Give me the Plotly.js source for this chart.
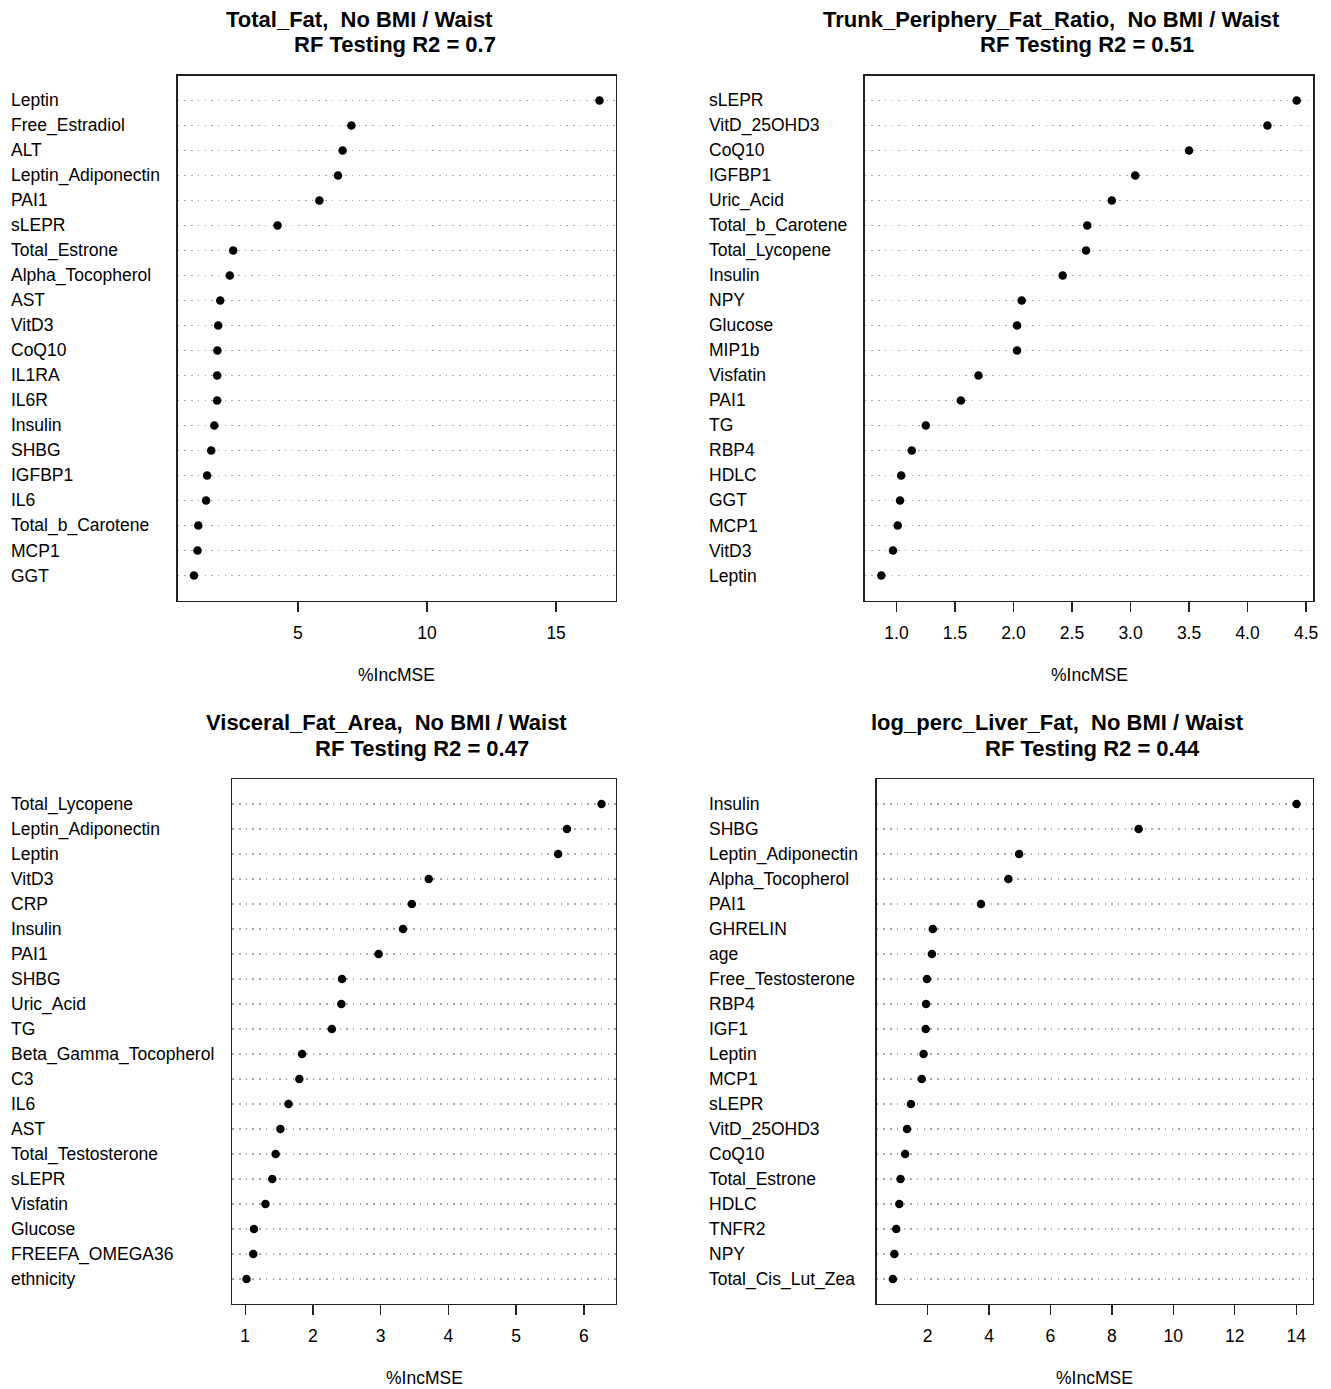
<!DOCTYPE html>
<html>
<head>
<meta charset="utf-8">
<script src="https://cdn.plot.ly/plotly-3.0.1.min.js"></script>
<style>
  html, body { margin: 0; padding: 0; background: #ffffff; }
  #chart { width: 1331px; height: 1389px; }
</style>
</head>
<body>
<div id="chart"></div>
<script>
// ---------------- DATA (top row of each chart first) ----------------
const labels1 = ["Leptin","Free_Estradiol","ALT","Leptin_Adiponectin","PAI1","sLEPR","Total_Estrone","Alpha_Tocopherol","AST","VitD3","CoQ10","IL1RA","IL6R","Insulin","SHBG","IGFBP1","IL6","Total_b_Carotene","MCP1","GGT"];
const values1 = [16.68,7.07,6.73,6.55,5.83,4.21,2.49,2.36,1.99,1.91,1.88,1.87,1.87,1.76,1.64,1.48,1.44,1.14,1.11,0.97];

const labels2 = ["sLEPR","VitD_25OHD3","CoQ10","IGFBP1","Uric_Acid","Total_b_Carotene","Total_Lycopene","Insulin","NPY","Glucose","MIP1b","Visfatin","PAI1","TG","RBP4","HDLC","GGT","MCP1","VitD3","Leptin"];
const values2 = [4.42,4.17,3.50,3.04,2.84,2.63,2.62,2.42,2.07,2.03,2.03,1.70,1.55,1.25,1.13,1.04,1.03,1.01,0.97,0.87];

const labels3 = ["Total_Lycopene","Leptin_Adiponectin","Leptin","VitD3","CRP","Insulin","PAI1","SHBG","Uric_Acid","TG","Beta_Gamma_Tocopherol","C3","IL6","AST","Total_Testosterone","sLEPR","Visfatin","Glucose","FREEFA_OMEGA36","ethnicity"];
const values3 = [6.26,5.75,5.62,3.71,3.46,3.33,2.97,2.43,2.42,2.28,1.84,1.80,1.64,1.52,1.45,1.40,1.30,1.13,1.12,1.02];

const labels4 = ["Insulin","SHBG","Leptin_Adiponectin","Alpha_Tocopherol","PAI1","GHRELIN","age","Free_Testosterone","RBP4","IGF1","Leptin","MCP1","sLEPR","VitD_25OHD3","CoQ10","Total_Estrone","HDLC","TNFR2","NPY","Total_Cis_Lut_Zea"];
const values4 = [14.01,8.87,4.98,4.63,3.74,2.17,2.14,1.98,1.95,1.94,1.87,1.81,1.46,1.33,1.27,1.12,1.08,0.98,0.92,0.87];

const titles1 = ["Total_Fat,  No BMI / Waist", "Trunk_Periphery_Fat_Ratio,  No BMI / Waist", "Visceral_Fat_Area,  No BMI / Waist", "log_perc_Liver_Fat,  No BMI / Waist"];
const titles2 = ["RF Testing R2 = 0.7", "RF Testing R2 = 0.51", "RF Testing R2 = 0.47", "RF Testing R2 = 0.44"];
const xTitle = "%IncMSE";

const tickvals1 = [5, 10, 15];
const tickvals2 = [1.0, 1.5, 2.0, 2.5, 3.0, 3.5, 4.0, 4.5];
const ticktext2 = ["1.0","1.5","2.0","2.5","3.0","3.5","4.0","4.5"];
const tickvals3 = [1, 2, 3, 4, 5, 6];
const tickvals4 = [2, 4, 6, 8, 10, 12, 14];

// ---------------- LAYOUT GEOMETRY (pixels) ----------------
const W = 1331, H = 1389;
const FONT = "'Liberation Sans', Arial, Helvetica, sans-serif";
const px = x => x / W;
const py = y => 1 - y / H;

const panels = [
  {labels: labels1, values: values1, tv: tickvals1, tt: null,      box: [177.7, 615.7, 75.5, 600.5],  labelX: 9.5},
  {labels: labels2, values: values2, tv: tickvals2, tt: ticktext2, box: [864.7, 1313.3, 75.5, 600.5], labelX: 707.5},
  {labels: labels3, values: values3, tv: tickvals3, tt: null,      box: [232.3, 615.7, 779, 1304],    labelX: 9.5},
  {labels: labels4, values: values4, tv: tickvals4, tt: null,      box: [876.7, 1312.7, 779, 1304],   labelX: 707.5}
];

const data = [];
const layout = {
  width: W, height: H,
  margin: {l: 0, r: 0, t: 0, b: 0, pad: 0},
  paper_bgcolor: "#ffffff",
  plot_bgcolor: "#ffffff",
  showlegend: false,
  font: {family: FONT, color: "#000000", size: 17.5},
  annotations: []
};

panels.forEach((p, k) => {
  const n = p.values.length;
  const suffix = k === 0 ? "" : String(k + 1);
  const xa = "x" + suffix, ya = "y" + suffix;
  const ys = p.values.map((v, i) => n - i);
  const vmin = Math.min(...p.values), vmax = Math.max(...p.values);
  const pad = 0.04 * (vmax - vmin);

  data.push({
    type: "scatter", mode: "markers",
    x: p.values, y: ys, xaxis: xa, yaxis: ya,
    marker: {color: "#000000", size: 8.5, line: {width: 0}},
    hoverinfo: "skip"
  });

  const [x0, x1, yTop, yBot] = p.box;
  layout["xaxis" + suffix] = {
    domain: [px(x0), px(x1)],
    anchor: ya,
    range: [vmin - pad, vmax + pad],
    tickmode: "array",
    tickvals: p.tv,
    ticktext: p.tt || p.tv.map(String),
    ticks: "outside", ticklen: 10, tickwidth: 1.3, tickcolor: "#222222",
    ticklabelstandoff: 6,
    tickfont: {family: FONT, size: 17.5, color: "#000000"},
    showgrid: false, zeroline: false,
    showline: true, mirror: true, linecolor: "#222222", linewidth: 1.3,
    fixedrange: true
  };
  layout["yaxis" + suffix] = {
    domain: [py(yBot), py(yTop)],
    anchor: xa,
    range: [0, n + 1],
    tickmode: "array",
    tickvals: ys,
    showticklabels: false, ticks: "",
    showgrid: true, gridcolor: "#a8a8a8", gridwidth: 1.2, griddash: "1.5px,5.2px",
    zeroline: false,
    showline: true, mirror: true, linecolor: "#222222", linewidth: 1.3,
    fixedrange: true
  };

  // category labels, left aligned, positioned on the y scale
  p.labels.forEach((lab, i) => {
    layout.annotations.push({
      text: lab, xref: "paper", x: px(p.labelX), xanchor: "left",
      yref: ya, y: ys[i], yanchor: "middle", borderpad: 0,
      showarrow: false, font: {family: FONT, size: 17.5, color: "#000000"}
    });
  });

  const cx = (x0 + x1) / 2;
  // titles (two lines, as separate texts: the first line sits left of centre)
  layout.annotations.push({
    text: "<b>" + titles1[k] + "</b>", xref: "paper", yref: "paper",
    x: px(cx - 37.5), y: py(yTop - 56.5), xanchor: "center", yanchor: "middle", borderpad: 0,
    showarrow: false, font: {family: FONT, size: 22, color: "#000000"}
  });
  layout.annotations.push({
    text: "<b>" + titles2[k] + "</b>", xref: "paper", yref: "paper",
    x: px(cx - 2), y: py(yTop - 31), xanchor: "center", yanchor: "middle", borderpad: 0,
    showarrow: false, font: {family: FONT, size: 22, color: "#000000"}
  });
  // x-axis title
  layout.annotations.push({
    text: xTitle, xref: "paper", yref: "paper",
    x: px(cx), y: py(yBot + 74), xanchor: "center", yanchor: "middle", borderpad: 0,
    showarrow: false, font: {family: FONT, size: 17.5, color: "#000000"}
  });
});

Plotly.newPlot("chart", data, layout, {displayModeBar: false, staticPlot: true});
</script>
</body>
</html>
